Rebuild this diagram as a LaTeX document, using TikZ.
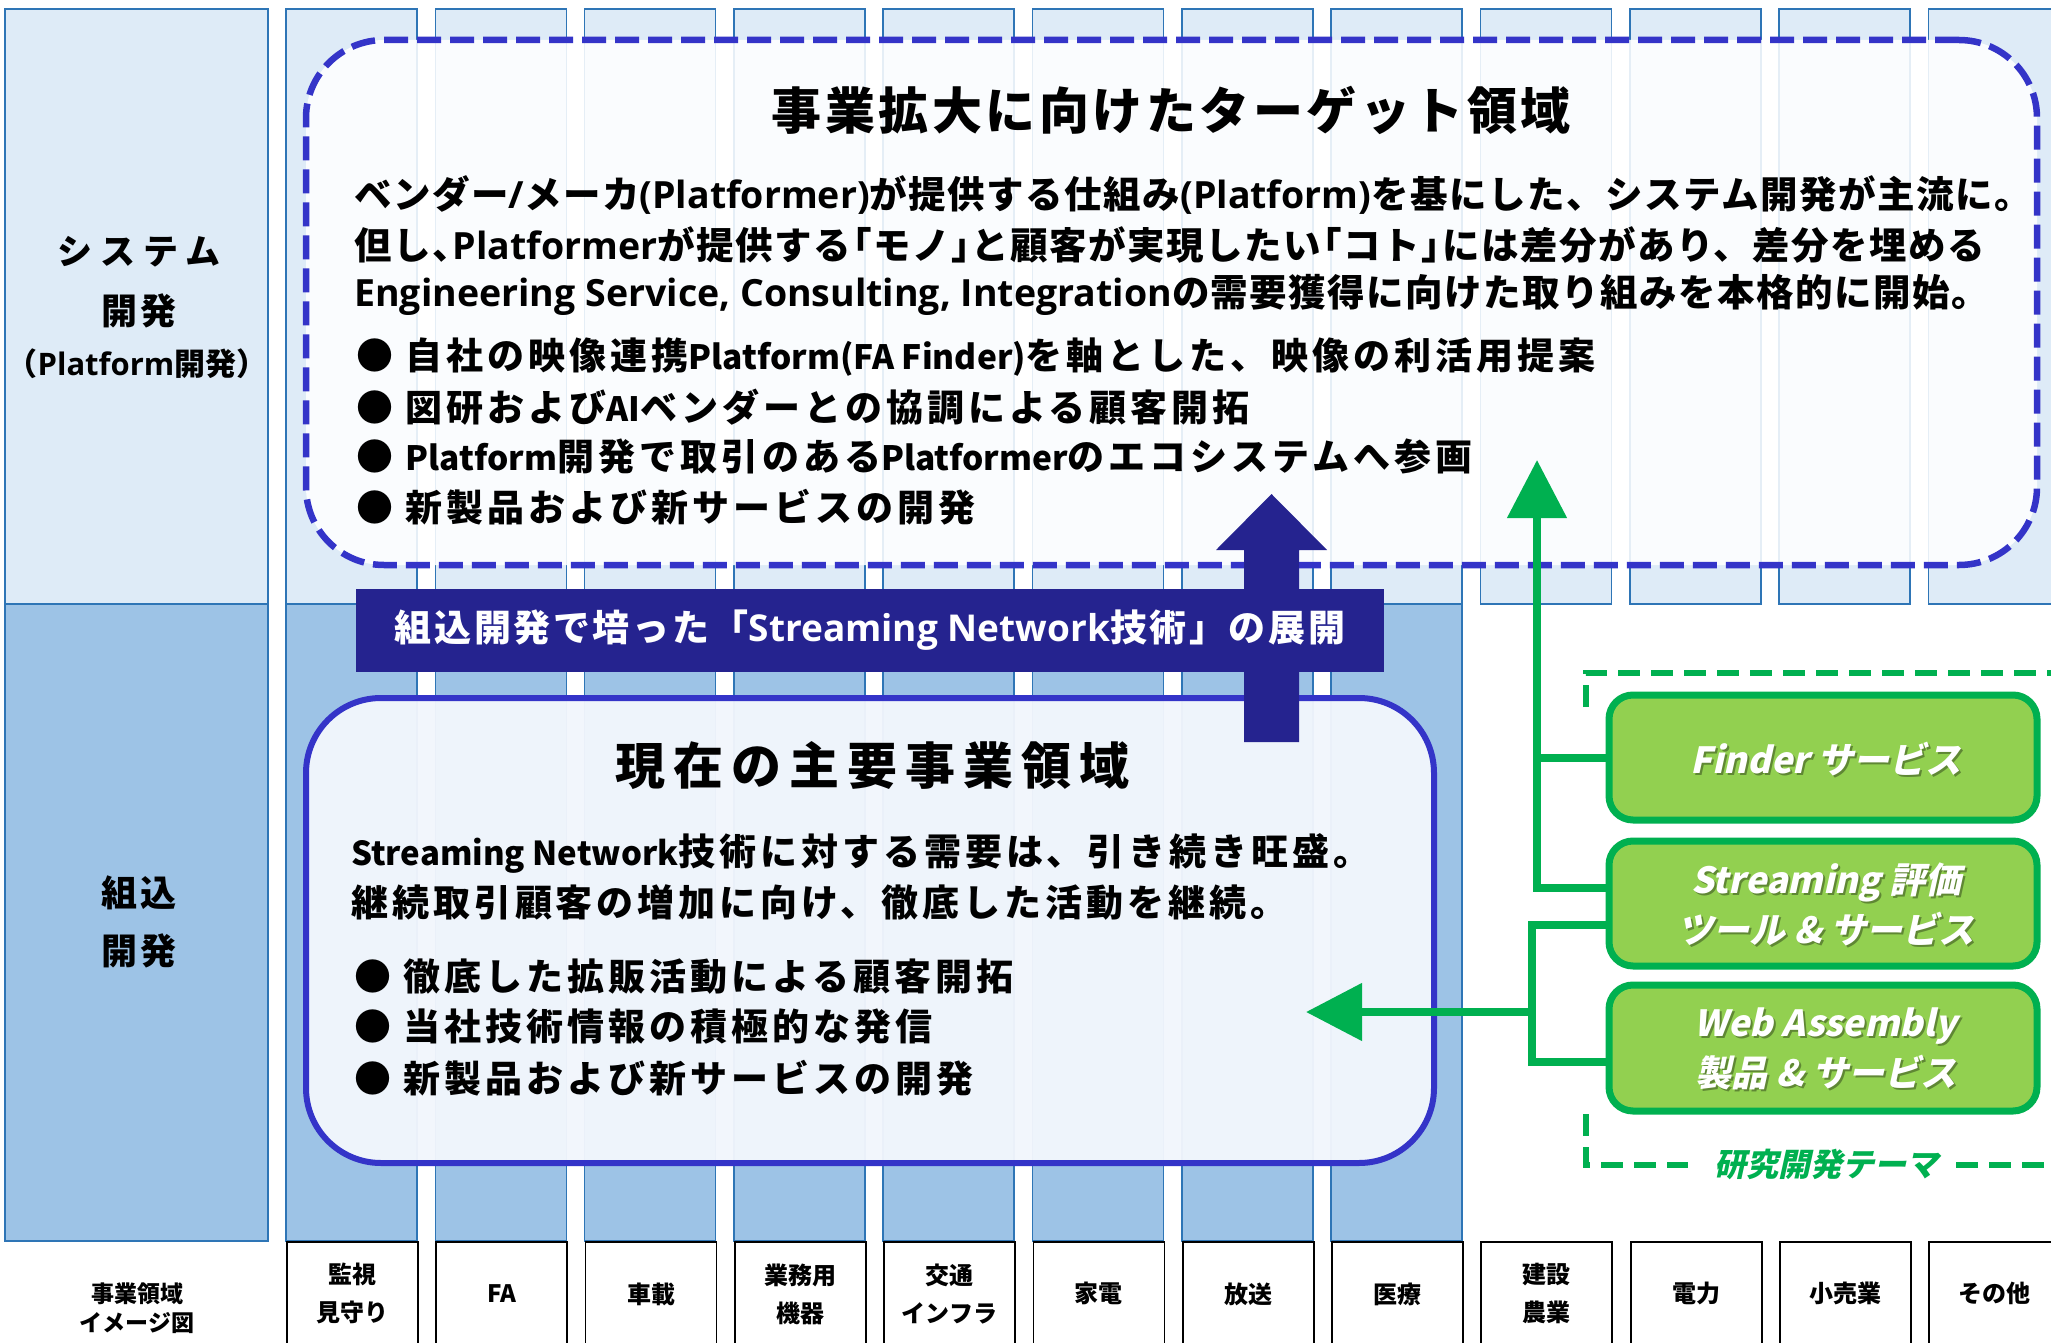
\documentclass[tikz,border=0pt]{standalone}
\usepackage{fontspec}
\setmainfont{Noto Sans CJK JP}
\newfontfamily\jpslant{Noto Sans CJK JP}[FakeSlant=0.22]
\newfontfamily\latn{Noto Sans CJK JP}
\newfontfamily\lato{Open Sans}
\usetikzlibrary{arrows.meta,calc}
\definecolor{cLight}{HTML}{DEEBF7}
\definecolor{cDark}{HTML}{9DC3E6}
\definecolor{cBord}{HTML}{2E75B6}
\definecolor{cDash}{HTML}{3434C8}
\definecolor{cNavy}{HTML}{25238F}
\definecolor{cGreen}{HTML}{00B050}
\definecolor{cGFill}{HTML}{92D050}
\definecolor{cLowFill}{HTML}{F2F6FC}
\newcommand\hl{\kern-0.45em\relax}
\newcommand\bl[1]{{\latn\fontsize{33.5}{40}\selectfont #1}}
\tikzset{
  lightcell/.style={draw=cBord, line width=1.6pt, fill=cLight},
  darkcell/.style={draw=cBord, line width=1.6pt, fill=cDark},
  labelbox/.style={draw=black, line width=1.8pt, fill=white, minimum width=131pt,
    minimum height=104pt, anchor=north west, inner sep=0pt, align=center,
    font=\fontsize{24}{38}\selectfont\bfseries},
  sidetext/.style={inner sep=0pt, align=center, font=\fontsize{36}{58}\selectfont\bfseries},
  tgtbox/.style={draw=cDash, line width=6.5pt, dash pattern=on 24pt off 9pt,
    fill=white, fill opacity=0.88, rounded corners=78pt, inner sep=0pt},
  curbox/.style={draw=cDash, line width=6pt, fill=cLowFill, fill opacity=0.96,
    rounded corners=75pt, inner sep=0pt},
  bigtitle/.style={inner sep=0pt, font=\fontsize{50}{56}\selectfont\bfseries\addfontfeatures{LetterSpace=7}},
  body/.style={anchor=west, inner sep=0pt, font=\fontsize{37.5}{40}\selectfont\bfseries\addfontfeatures{LetterSpace=4}},
  lowbody/.style={anchor=west, inner sep=0pt, font=\fontsize{37}{40}\selectfont\bfseries\addfontfeatures{LetterSpace=10.7}},
  bullet/.style={anchor=west, inner sep=0pt, font=\fontsize{37}{40}\selectfont\bfseries\addfontfeatures{LetterSpace=10.8}},
  banner/.style={fill=cNavy, text=white, inner sep=0pt, minimum width=1028pt, minimum height=83pt,
    font=\fontsize{37}{40}\selectfont\bfseries\addfontfeatures{LetterSpace=7}},
  gbox/.style={draw=cGreen, line width=7pt, fill=cGFill, rounded corners=24pt,
    minimum width=428pt, inner sep=0pt},
  gtext/.style={inner sep=0pt, align=center, text=white, font=\fontsize{36}{50}\selectfont\bfseries\jpslant},
  gshadow/.style={gtext, text=black, text opacity=0.35},
  gline/.style={draw=cGreen, line width=8pt},
  gdash/.style={draw=cGreen, line width=6pt, dash pattern=on 22pt off 11pt},
}
\begin{document}
\begin{tikzpicture}[x=1pt,y=-1pt]
\useasboundingbox (0,0) rectangle (2051,1343);
\clip (0,0) rectangle (2051,1343);
\fill[white] (0,0) rectangle (2051,1343);

% left header column
\draw[lightcell] (5,9) rectangle (268,604);
\draw[darkcell] (5,604) rectangle (268,1241);

% industry columns
\foreach \i in {0,...,11} {
  \pgfmathsetmacro\xl{286+\i*149.3}
  \draw[lightcell] (\xl,9) rectangle ++(131,595);
}
\foreach \i in {0,...,7} {
  \pgfmathsetmacro\xl{286+\i*149.3}
  \draw[darkcell] (\xl,604) rectangle ++(131,637);
}

% bottom labels
\node[labelbox] (lab1) at (286.0,1241) {監視\\見守り};
\node[labelbox] (lab2) at (435.3,1241) {FA};
\node[labelbox] (lab3) at (584.6,1241) {車載};
\node[labelbox] (lab4) at (733.9,1241) {業務用\\機器};
\node[labelbox] (lab5) at (883.2,1241) {交通\\インフラ};
\node[labelbox] (lab6) at (1032.5,1241) {家電};
\node[labelbox] (lab7) at (1181.8,1241) {放送};
\node[labelbox] (lab8) at (1331.1,1241) {医療};
\node[labelbox] (lab9) at (1480.4,1241) {建設\\農業};
\node[labelbox] (lab10) at (1629.7,1241) {電力};
\node[labelbox] (lab11) at (1779.0,1241) {小売業};
\node[labelbox] (lab12) at (1928.3,1241) {その他};

% side texts
\node[sidetext, font=\fontsize{35}{40}\selectfont\bfseries\addfontfeatures{LetterSpace=22}] (sysA) at (139,252) {システム};
\node[sidetext, font=\fontsize{36}{40}\selectfont\bfseries\addfontfeatures{LetterSpace=8}] (sysB) at (139,311) {開発};
\node[sidetext, font=\fontsize{31}{34}\selectfont\bfseries] (sysC) at (137,364) {（{\lato Platform}開発）};
\node[sidetext, font=\fontsize{36}{58}\selectfont\bfseries\addfontfeatures{LetterSpace=8}] (emb) at (139,922) {組込\\開発};
\node[sidetext, font=\fontsize{23}{29}\selectfont\bfseries] (areaLbl) at (137,1308) {事業領域\\イメージ図};

% target box
\node[tgtbox, minimum width=1731pt, minimum height=525pt] (tgt) at (1171.5,302.5) {};
\node[bigtitle] (tgtTitle) at (1171,110) {事業拡大に向けたターゲット領域};
\node[body] (t1) at (354,195) {ベンダー{\lato /}メーカ{\lato (Platformer)}が提供する仕組み{\lato (Platform)}を基にした、システム開発が主流に。};
\node[body] (t2) at (354,245) {但し、\hl{\lato Platformer}が提供する\hl「モノ」\hl と顧客が実現したい\hl「コト」\hl には差分があり、差分を埋める};
\node[body] (t3) at (354,295) {{\lato Engineering Service, Consulting, Integration}の需要獲得に向けた取り組みを本格的に開始。};
\node[bullet] (b1) at (356,357) {● 自社の映像連携\bl{Platform(FA Finder)}を軸とした、映像の利活用提案};
\node[bullet] (b2) at (356,407) {● 図研および\bl{AI}ベンダーとの協調による顧客開拓};
\node[bullet] (b3) at (356,457) {● \bl{Platform}開発で取引のある\bl{Platformer}のエコシステムへ参画};
\node[bullet] (b4) at (356,507) {● 新製品および新サービスの開発};

% current box
\node[curbox, minimum width=1128pt, minimum height=465pt] (cur) at (870,930.5) {};
\node[bigtitle, font=\fontsize{50}{56}\selectfont\bfseries\addfontfeatures{LetterSpace=16}] (curTitle) at (872,766) {現在の主要事業領域};
\node[lowbody] (l1) at (351,853) {{\latn\fontsize{33}{40}\selectfont Streaming Network}技術に対する需要は、引き続き旺盛。};
\node[lowbody] (l2) at (351,903) {継続取引顧客の増加に向け、徹底した活動を継続。};
\node[bullet] (lb1) at (354,977) {● 徹底した拡販活動による顧客開拓};
\node[bullet] (lb2) at (354,1027) {● 当社技術情報の積極的な発信};
\node[bullet] (lb3) at (354,1078) {● 新製品および新サービスの開発};

% navy block arrow and banner
\fill[cNavy] (1244,742) -- (1244,550) -- (1216,550) -- (1271.5,494) -- (1327,550) -- (1299,550) -- (1299,742) -- cycle;
\node[banner] (ban) at (870,630.5) {組込開発で培った「{\lato Streaming Network}技術」の展開};

% research theme frame
\draw[gdash] (1586,707) -- (1586,673) -- (2070,673);
\draw[gdash] (1586,1114) -- (1586,1165) -- (1688,1165);
\draw[gdash] (1956,1165) -- (2070,1165);
\node[inner sep=0pt, text=cGreen, font=\fontsize{32}{36}\selectfont\bfseries\jpslant] (rdLbl) at (1826,1164) {研究開発テーマ};

% green boxes
\node[gbox, minimum height=125pt] (gFinder) at (1823,757.5) {};
\node[gbox, minimum height=125pt] (gStream) at (1823,903.5) {};
\node[gbox, minimum height=126pt] (gWeb) at (1823,1048) {};
\node[gshadow] at (1828,761) {Finder サービス};
\node[gtext] (gFinderT) at (1826,759) {Finder サービス};
\node[gshadow] at (1828,906) {Streaming 評価\\ツール \& サービス};
\node[gtext] (gStreamT) at (1826,904) {Streaming 評価\\ツール \& サービス};
\node[gshadow] at (1828,1051) {Web Assembly\\製品 \& サービス};
\node[gtext] (gWebT) at (1826,1049) {Web Assembly\\製品 \& サービス};

% green connectors
\coordinate (upTip) at (1537,460);
\coordinate (leftTip) at (1306,1012);
\coordinate (joinL) at (1532,1012);
\draw[gline] (gFinder.west) -- (gFinder.west -| upTip);
\draw[gline, -{Triangle[width=58pt,length=58pt]}] ($(gStream.west)+(0,-15.5)$) -| (upTip);
\draw[gline] ($(gStream.west)+(0,21.5)$) -| ($(gWeb.west -| joinL)+(0,14)$) -- ($(gWeb.west)+(0,14)$);
\draw[gline, -{Triangle[width=56pt,length=56pt]}] (joinL) -- (leftTip);
\end{tikzpicture}
\end{document}
